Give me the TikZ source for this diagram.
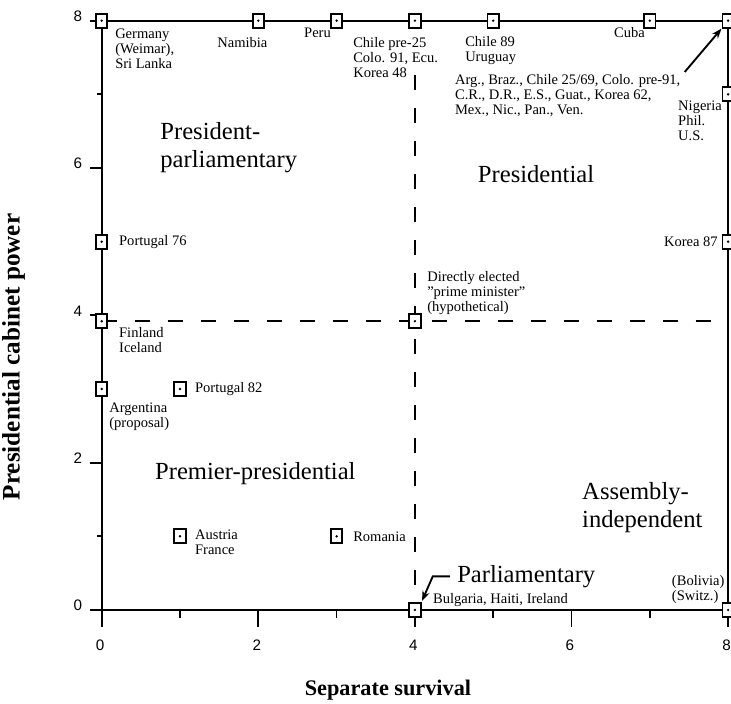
\documentclass[tikz,border=0pt]{standalone}
\usepackage{fontspec}
\setmainfont{Liberation Serif}[Ligatures=ResetAll]
\newfontfamily\ticksans{Liberation Sans}
\usetikzlibrary{arrows.meta}
\tikzset{
	regime/.style={draw, fill=white, line width=1.6pt, rectangle, inner sep=0pt, minimum width=0.34cm, minimum height=0.42cm, path picture={\fill[black] (path picture bounding box.center) circle (0.04cm);}},
	country/.style={inner sep=0pt, align=left, font=\fontsize{12.4}{12.8}\selectfont},
	regimetype/.style={inner sep=0pt, align=left, font=\fontsize{21}{24}\selectfont},
	ticklabel/.style={inner sep=0pt, font=\ticksans\fontsize{13}{13}\selectfont},
	axistitle/.style={inner sep=0pt, font=\bfseries\fontsize{19}{19}\selectfont},
	axisline/.style={line width=1.5pt},
	divider/.style={line width=1.6pt, dash pattern=on 0.45cm off 0.54cm},
	pointer/.style={line width=1.6pt, -{Stealth[length=0.3cm, width=0.22cm]}}
}

\begin{document}
\begin{tikzpicture}[x=2.349cm, y=2.2098cm]
			%%%%% START %%%%%
			\useasboundingbox (-1.299,-1.263) rectangle (8.037,8.281);
			
			\draw[axisline] (0,0) -- (8,0) -- (8,8) -- (0,8) -- cycle;
			\foreach \t in {0,2,...,8} {
				\draw[axisline] (-0.15,\t) -- (0,\t);
				\draw[axisline] (\t,0) -- (\t,-0.23);
				\node[ticklabel] (ytick\t) at (-0.305,\t+0.06) {\t};
				\node[ticklabel] (xtick\t) at (\t-0.02,-0.475) {\t};
			}
			\foreach \t in {1,3,5,7} {
				\draw[axisline] (-0.06,\t) -- (0,\t);
				\draw[axisline] (\t,0) -- (\t,-0.11);
			}
			
			\draw[divider] (0,3.92) -- (8,3.92);
			\draw[divider] (4,7.26) -- (4,0);
			
			\foreach \n/\x/\y in {germany/0/8, namibia/2/8, peru/3/8, chilepre/4/8, uruguay/5/8, cuba/7/8, argbraz/8/8, nigeria/8/7, korea/8/5, portugalA/0/5, finland/0/3.92, argentina/0/3, portugalB/1/3, directpm/4/3.92, austria/1/1, romania/3/1, bulgaria/4/0, bolivia/8/0}
				\node[regime] (\n) at (\x,\y) {};
			
			%%%%% COUNTRIES %%%%%
			\node[country, anchor=north west] (germanytxt) at (0.17,7.888) {Germany\\(Weimar),\\Sri Lanka};
			\node[country, anchor=north] (namibiatxt) at (1.797,7.779) {Namibia};
			\node[country, anchor=north] (perutxt) at (2.756,7.901) {Peru};
			\node[country, anchor=north west] (chilepretxt) at (3.21,7.779) {Chile pre-25\\Colo. 91, Ecu.\\Korea 48};
			\node[country, anchor=north west] (uruguaytxt) at (4.64,7.79) {Chile 89\\Uruguay};
			\node[country, anchor=north east] (cubatxt) at (6.939,7.915) {Cuba};
			\node[country, anchor=north west] (argbraztxt) at (4.51,7.276) {Arg., Braz., Chile 25/69, Colo. pre-91,\\C.R., D.R., E.S., Guat., Korea 62,\\Mex., Nic., Pan., Ven.};
			\node[country, anchor=north west] (nigeriatxt) at (7.36,6.92) {Nigeria\\Phil.\\U.S.};
			\node[country, anchor=east] (koreatxt) at (7.87,5) {Korea 87};
			\node[country, anchor=west] (portugalAtxt) at (0.22,5) {Portugal 76};
			\node[country, anchor=north west] (finlandtxt) at (0.22,3.842) {Finland\\Iceland};
			\node[country, anchor=north west] (argentinatxt) at (0.095,2.81) {Argentina\\(proposal)};
			\node[country, anchor=west] (portugalBtxt) at (1.19,3) {Portugal 82};
			\node[country, anchor=north west] (directpmtxt) at (4.155,4.60) {Directly elected\\"prime minister"\\(hypothetical)};
			\node[country, anchor=north west] (austriatxt) at (1.19,1.086) {Austria\\France};
			\node[country, anchor=west] (romaniatxt) at (3.21,1) {Romania};
			\node[country, anchor=north west] (bulgariatxt) at (4.23,0.23) {Bulgaria, Haiti, Ireland};
			\node[country, anchor=north west] (boliviatxt) at (7.28,0.475) {(Bolivia)\\(Switz.)};
			
			%%%%% REGIME TYPES %%%%%
			\node[regimetype, anchor=north west] (prespar) at (0.747,6.625) {President-\\parliamentary};
			\node[regimetype, anchor=north] (pres) at (5.547,6.04) {Presidential};
			\node[regimetype, anchor=north west] (premier) at (0.68,2.0) {Premier-presidential};
			\node[regimetype, anchor=north west] (assembly) at (6.134,1.738) {Assembly-\\independent};
			\node[regimetype, anchor=north west] (parl) at (4.538,0.611) {Parliamentary};
			
			\coordinate (argtail) at (7.446,7.304);
			\draw[pointer] (argtail) -- (argbraz.south west);
			\draw[pointer, shorten >=1pt] (parl.west) ++(-0.09,0) -- ++(-0.22,0) -- (bulgaria.north east);
			
			\node[axistitle, rotate=90, font=\bfseries\fontsize{21.5}{21.5}\selectfont] (ytitle) at (-1.126,3.435) {Presidential cabinet power};
			\node[axistitle] (xtitle) at (3.656,-1.086) {Separate survival};
			%%%%% END %%%%%
\end{tikzpicture}
\end{document}
